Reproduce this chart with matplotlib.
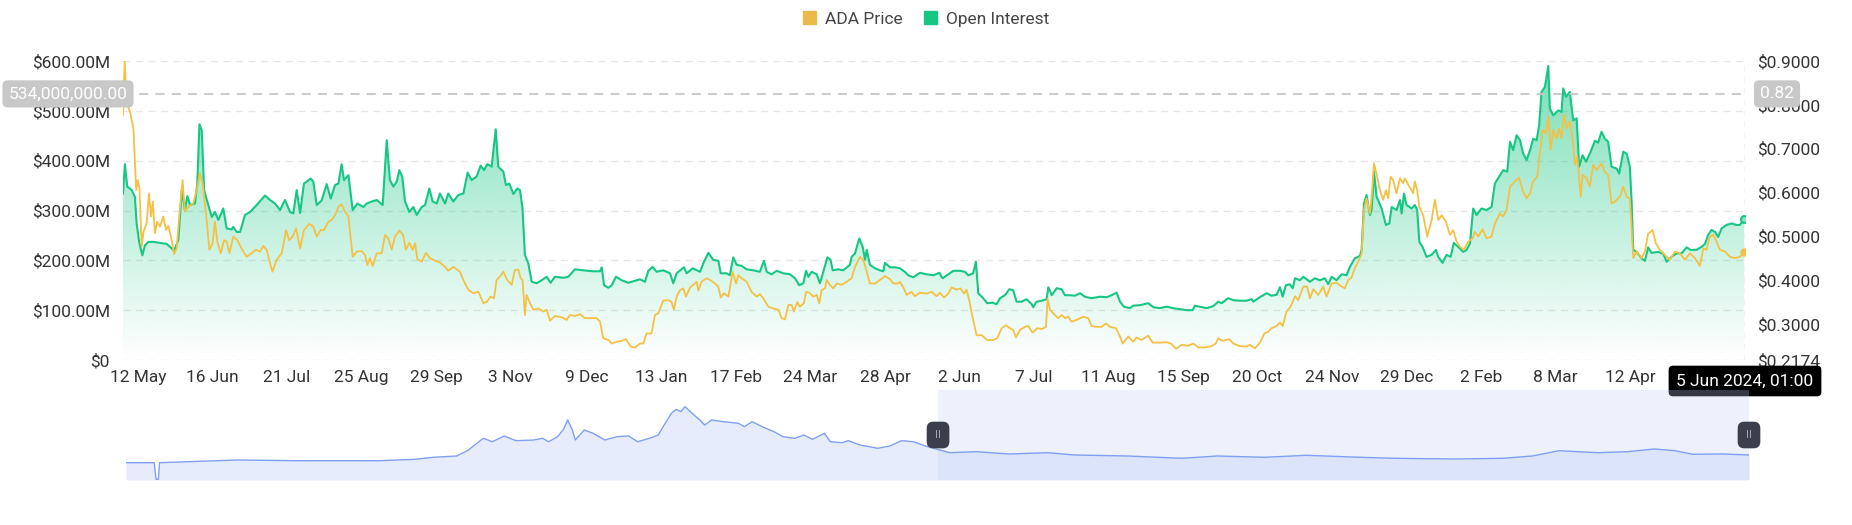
import numpy as np
import pandas as pd
import matplotlib
matplotlib.use("Agg")
import matplotlib.pyplot as plt
import matplotlib.dates as mdates
from matplotlib.patches import Patch
from matplotlib.ticker import FuncFormatter, FixedLocator
from matplotlib.transforms import blended_transform_factory

plt.rcParams['font.family'] = ['Roboto', 'DejaVu Sans']

# time window of the main chart and of the navigator underneath
start = pd.Timestamp('2022-05-05')
end = pd.Timestamp('2024-06-05')
nav_start = pd.Timestamp('2020-04-02')

# open interest, days after start -> million USD
oi_day = [0, 0.9, 2.0, 4.1, 5.6, 6.4, 7.7, 9.1, 10.3, 11.9, 14.3, 17.4, 20.5, 22.9, 24.0, 26.0, 27.6,
          29.1, 30.2, 31.5, 33.8, 34.9, 35.9, 37.0, 38.1, 39.6, 41.7, 43.2, 44.8, 47.1, 48.7, 51.0,
          51.8, 53.4, 55.0, 57.3, 59.7, 62.8, 66.7, 69.1, 71.4, 73.8, 76.1, 78.5, 80.0, 81.6, 83.2,
          85.0, 86.3, 88.2, 89.4, 91.0, 93.3, 95.7, 97.6, 99.6, 101.2, 102.7, 103.8, 105.9, 107.9,
          110.1, 112.9, 114.5, 116.8, 119.2, 122.0, 123.9, 125.4, 127.0, 128.6, 129.8, 131.2, 132.5,
          134.5, 136.4, 138.0, 140.3, 141.9, 143.9, 145.5, 147.4, 148.9, 151.3, 152.8, 155.2, 157.5,
          159.9, 161.9, 163.8, 166.1, 168.0, 169.6, 171.2, 173.2, 175.1, 176.3,
          178.7, 179.9, 181.5, 183.4, 185.2, 186.5, 187.7, 188.8, 190.4, 192.0, 194.3, 196.7, 199.0,
          200.9, 202.9, 206.9, 209.2, 212.3, 216.2, 221.0, 224.1, 224.9, 226.0, 228.0, 229.6, 231.6,
          234.3, 237.4, 239.7, 242.9, 245.2, 246.8, 248.8, 250.7, 253.8, 257.0, 258.5, 260.1, 263.5,
          264.8, 267.6, 271.1, 272.6, 275.0, 277.3, 279.7, 280.8, 283.6, 285.1, 286.7, 288.3, 290.6,
          293.0, 296.1, 299.2, 301.1, 302.4, 304.7, 307.1, 310.2, 313.3, 315.7, 317.7, 319.6, 320.9,
          322.0, 323.5, 325.9, 327.4, 329.0, 330.9, 332.4, 333.4, 336.0, 338.4, 341.5, 342.3, 343.9,
          345.9, 347.5, 348.6, 349.4, 350.9, 353.3, 355.6, 357.2, 358.0, 360.3, 362.7, 365.0,
          367.3, 368.9, 371.3, 374.4, 377.5, 380.7, 383.5, 385.0, 387.7, 390.1, 393.2, 395.5, 397.1,
          399.4, 400.7, 401.8, 404.1, 406.0, 408.5, 410.4, 412.0, 414.3, 416.4, 418.2, 419.8, 422.2,
          424.5, 426.9, 427.6, 429.2, 431.6, 433.9, 434.7, 436.3, 438.6, 441.0, 442.5, 444.9, 447.2,
          449.6, 451.9, 455.0, 459.0, 462.1, 464.4, 466.8, 468.4, 470.2, 473.0, 474.6, 477.7, 481.7,
          484.0, 487.1, 490.3, 493.4, 496.5, 499.7, 502.5, 503.6, 505.9, 509.1, 512.2, 514.5, 516.1,
          519.2, 521.6, 524.7, 527.9, 530.2, 531.0, 534.1, 537.3, 539.6, 542.0, 543.5, 544.8, 546.3,
          548.2, 549.5, 550.6, 552.9,
          554.5, 557.6, 559.9, 562.3, 564.6, 566.2, 567.8, 570.1, 572.5, 574.8, 576.4, 578.7, 581.1,
          581.9, 583.0, 584.2, 585.8, 586.6, 587.7, 588.9, 591.3, 593.3, 594.9, 596.0, 598.3, 599.9,
          600.7, 601.8, 603.0, 605.4, 606.9, 608.0, 609.0, 610.5, 612.4, 614.8, 616.8, 617.9, 619.9,
          621.8, 623.7, 625.2, 627.3, 629.6, 631.2, 632.8, 634.3, 635.9, 638.2, 640.6, 642.9, 644.5,
          646.5, 648.4, 650.3, 651.6, 653.1, 654.7, 656.3, 657.8, 659.4, 661.0, 662.5, 664.1, 665.3,
          666.4, 668.0, 669.6, 670.3, 671.9, 674.3, 675.8, 676.6, 677.9, 679.7, 681.3, 682.9, 684.1,
          685.7, 687.3, 689.1, 691.5, 693.0, 694.6, 696.2, 697.7, 699.3, 701.7, 702.9, 704.8, 706.4,
          707.9, 708.7, 709.5, 711.1, 713.4, 715.0, 716.5, 718.1, 721.2, 723.6, 725.2, 727.5, 729.9,
          732.2, 734.6, 736.4, 739.2, 741.6, 743.2, 744.7, 746.3, 747.9, 749.4, 751.0, 753.3, 755.7,
          758.0, 759.6, 761.6]
oi_musd = [334, 393, 348, 341, 327, 274, 234, 210, 230, 237, 237, 235, 233, 224, 219, 241, 341,
           301, 329, 311, 314, 354, 473, 461, 341, 318, 287, 297, 281, 304, 264, 262,
           267, 257, 257, 291, 297, 311, 330, 321, 314, 301, 321, 297, 294, 341, 295,
           354, 358, 364, 358, 311, 320, 353, 324, 351, 354, 393, 361, 371, 301,
           314, 307, 314, 318, 321, 311, 441, 361, 348, 358, 381, 368, 318,
           297, 307, 291, 307, 311, 344, 318, 314, 334, 314, 334, 318, 331,
           334, 376, 361, 368, 390, 381, 393, 388, 463, 388,
           378, 351, 354, 333, 344, 341, 304, 211, 194, 157, 154, 160, 167,
           155, 167, 165, 167, 182, 180, 178, 178, 186, 150, 145, 150, 167,
           160, 155, 158, 162, 157, 179, 187, 177, 180, 174, 154, 174, 186,
           174, 184, 177, 194, 215, 201, 199, 174, 174, 170, 206, 191, 189,
           182, 180, 177, 199, 177, 172, 179, 174, 172, 164, 150, 154, 179,
           167, 177, 172, 154, 177, 206, 201, 180, 182, 180, 191, 207, 214,
           244, 227, 201, 221, 191, 184, 180, 178, 195, 186, 186, 184,
           177, 170, 166, 175, 172, 170, 175, 164, 172, 179, 179, 177, 170,
           174, 197, 134, 124, 114, 115, 112, 124, 130, 142, 140, 117, 117,
           122, 112, 106, 117, 119, 122, 146, 130, 144, 142, 130, 130, 129,
           134, 127, 124, 127, 126, 130, 135, 117, 107, 104, 109, 110, 114,
           106, 104, 107, 104, 102, 100, 100, 109, 107, 104, 108, 117, 114,
           124, 120, 119, 119, 122, 117, 126, 134, 129, 131, 146, 127, 150,
           152, 144, 164, 160,
           167, 157, 164, 160, 164, 152, 167, 160, 172, 170, 187, 204, 209,
           221, 314, 331, 291, 301, 378, 328, 304, 271, 274, 307, 301, 321,
           294, 334, 311, 304, 311, 301, 237, 227, 207, 211, 221, 207, 195,
           211, 207, 235, 227, 217, 221, 234, 304, 291, 304, 301, 307, 354,
           368, 381, 378, 438, 421, 451, 441, 414, 401, 421, 444, 441, 471,
           538, 548, 590, 505, 491, 501, 498, 545, 528, 538, 481, 485, 388,
           411, 398, 414, 440, 436, 458, 444, 438, 388, 384, 374, 418, 414,
           388, 321, 221, 217, 204, 199, 226, 215, 217, 213, 197, 207, 214,
           214, 226, 221, 221, 227, 233, 251, 261, 257, 247, 264, 271, 274,
           271, 271, 282]

# ADA price, days after start -> USD
price_day = [0, 0.8, 1.7, 3.3, 4.9, 6.2, 6.9, 7.7, 8.8, 9.6, 11.1, 12.2, 13.2, 14.0, 15.0, 16.1,
             17.4, 18.9, 20.2, 21.3, 22.9, 24.0, 25.2, 26.8, 28.0, 29.1, 30.7, 33.0, 34.6, 36.2,
             37.4, 39.0, 40.6, 42.1, 43.2, 44.3, 45.9, 47.5, 48.7, 50.0, 51.8, 53.7, 55.7, 58.1,
             60.4, 62.5, 64.4, 65.9, 67.5, 69.1, 70.2, 72.2, 74.6, 76.6, 78.1, 79.7, 81.3, 83.2,
             85.0, 87.5, 89.4, 91.0, 92.9, 94.4, 96.5, 98.0, 99.6, 101.2, 102.7, 104.3, 105.9,
             107.9, 109.8, 112.1, 113.7, 114.8, 116.0, 117.3, 119.2, 121.5, 123.1, 124.6, 126.2,
             127.8, 129.8, 131.6, 132.9, 134.5, 136.1, 137.2, 138.3, 140.3, 142.3, 144.2, 146.6,
             148.9, 151.3, 152.8, 155.2, 158.3, 159.9, 162.3, 164.6, 167.0, 169.3, 170.9, 172.7,
             174.3, 175.5, 177.1,
             178.7, 180.5, 182.6, 184.1, 185.7, 186.8, 187.7, 188.8, 189.6, 191.2, 192.8, 195.1,
             197.5, 199.0, 200.6, 202.9, 206.1, 208.4, 210.0, 212.3, 214.7, 217.0, 219.4, 222.5,
             224.1, 225.6, 228.0, 229.6, 231.9, 234.3, 236.3, 238.5, 240.5, 242.9, 244.4, 246.0,
             248.3, 249.9, 251.5, 253.8, 256.2, 257.7, 258.8, 260.1, 261.7, 263.2, 264.5, 266.4,
             267.9, 269.5, 270.3, 271.8, 274.2, 275.8, 278.1, 279.7, 280.8, 282.3, 284.4, 286.4,
             288.0, 289.1, 290.6, 293.0, 295.3, 297.7, 299.2, 300.8, 303.2, 305.5, 307.9, 309.4,
             311.0, 312.6, 314.1, 315.2, 316.8, 318.0, 319.9, 320.9, 322.4, 324.3, 325.9, 327.1,
             328.2, 329.8, 330.6, 332.1, 333.7, 335.3, 337.6, 340.0, 342.3, 343.9, 346.2, 347.8,
             349.4, 350.9, 353.3, 355.6, 358.0, 360.3, 361.9, 364.2,
             365.0, 366.6, 368.1, 370.5, 372.0, 374.4, 377.5, 379.9, 382.2, 383.8, 385.7, 387.7,
             389.3, 391.6, 393.5, 395.1, 396.3, 397.6, 398.7, 401.0, 403.4, 406.0, 408.8, 410.7,
             412.8, 414.8, 416.7, 418.2, 419.5, 421.4, 423.7, 425.3, 427.3, 429.5, 431.6, 433.6,
             434.4, 435.5, 437.8, 439.4, 441.0, 442.5, 444.1, 445.6, 448.0, 451.1, 453.5, 455.0,
             457.4, 459.7, 461.8, 463.7, 466.5, 468.4, 469.6, 472.3, 474.6, 476.2, 478.5, 481.7,
             483.7, 487.1, 490.3, 492.6, 494.7, 497.3, 500.5, 502.8, 505.2, 508.3, 511.4, 513.4,
             514.5, 516.6, 519.7, 521.6, 524.7, 527.9, 529.4, 531.8, 534.1, 536.2, 538.0, 539.6,
             542.0, 543.5, 544.8, 546.6, 548.5, 550.6, 552.1,
             554.5, 556.3, 557.6, 559.2, 561.5, 563.9, 565.4, 567.8, 570.1, 572.5, 574.0, 575.6,
             577.2, 578.7, 580.3, 581.9, 583.0, 584.2, 585.8, 586.6, 587.7, 588.9, 590.5, 592.0,
             593.3, 594.4, 595.5, 596.7, 598.3, 599.9, 601.4, 602.2, 604.3, 606.1, 606.9, 608.0,
             609.0, 610.8, 612.7, 614.8, 616.3, 617.9, 619.5, 621.5, 623.4, 624.9, 626.5, 628.1,
             629.9, 632.0, 634.0, 635.1, 636.7, 638.7, 640.6, 642.9, 644.5, 646.9, 648.4, 650.0,
             651.6, 653.9, 655.9, 657.5, 659.4, 661.0, 662.5, 664.4, 665.3, 666.9, 668.5, 669.6,
             670.7, 671.9, 673.5, 674.7, 675.8, 676.9, 678.2, 679.7, 681.0, 682.1, 683.2, 684.8,
             685.7, 687.6, 689.1, 690.7, 692.3, 694.6, 696.2, 697.7, 699.3, 700.9, 703.2, 704.8,
             706.4, 707.9, 708.7, 709.5, 711.1, 713.4, 715.0, 716.5, 718.6, 720.1, 722.0, 724.4,
             726.7, 729.1, 731.4, 733.8, 736.1, 738.5, 740.8, 742.4, 743.9, 745.5, 747.1, 748.6,
             750.2, 752.6, 754.9, 757.3, 759.6, 761.6]
price_usd = [0.777, 0.902, 0.803, 0.784, 0.746, 0.605, 0.628, 0.610, 0.476, 0.510, 0.529, 0.598,
             0.545, 0.579, 0.507, 0.533, 0.522, 0.545, 0.514, 0.524, 0.491, 0.459, 0.472, 0.567,
             0.628, 0.556, 0.567, 0.575, 0.605, 0.644, 0.621, 0.552, 0.469, 0.484, 0.533, 0.488,
             0.461, 0.491, 0.488, 0.461, 0.499, 0.491, 0.472, 0.453, 0.461, 0.469, 0.465, 0.478,
             0.469, 0.438, 0.419, 0.446, 0.461, 0.514, 0.491, 0.499, 0.518, 0.472, 0.514, 0.528,
             0.522, 0.499, 0.514, 0.514, 0.533, 0.537, 0.548, 0.567, 0.573, 0.556, 0.545, 0.453,
             0.465, 0.466, 0.457, 0.434, 0.450, 0.432, 0.461, 0.461, 0.503, 0.495, 0.469, 0.499,
             0.513, 0.503, 0.469, 0.485, 0.469, 0.484, 0.447, 0.442, 0.462, 0.450, 0.444, 0.440,
             0.430, 0.421, 0.430, 0.419, 0.400, 0.377, 0.370, 0.373, 0.347, 0.350, 0.362, 0.358,
             0.400, 0.408,
             0.419, 0.400, 0.389, 0.423, 0.424, 0.404, 0.400, 0.320, 0.366, 0.347, 0.332, 0.335,
             0.328, 0.332, 0.307, 0.318, 0.315, 0.309, 0.320, 0.318, 0.322, 0.313, 0.313, 0.313,
             0.305, 0.267, 0.263, 0.255, 0.259, 0.261, 0.265, 0.248, 0.246, 0.255, 0.255, 0.278,
             0.278, 0.320, 0.324, 0.353, 0.354, 0.350, 0.332, 0.362, 0.377, 0.381, 0.362, 0.383,
             0.389, 0.396, 0.376, 0.396, 0.404, 0.400, 0.392, 0.385, 0.360, 0.370, 0.362, 0.419,
             0.392, 0.411, 0.404, 0.396, 0.373, 0.362, 0.368, 0.358, 0.339, 0.335, 0.332, 0.313,
             0.310, 0.343, 0.343, 0.328, 0.350, 0.339, 0.347, 0.373, 0.371, 0.362, 0.366, 0.347,
             0.377, 0.381, 0.400, 0.389, 0.381, 0.392, 0.389, 0.396, 0.404, 0.430, 0.453, 0.446,
             0.419, 0.392, 0.392, 0.400, 0.409, 0.402, 0.392, 0.392,
             0.396, 0.383, 0.366, 0.373, 0.363, 0.371, 0.369, 0.373, 0.363, 0.371, 0.360, 0.369,
             0.383, 0.378, 0.381, 0.369, 0.378, 0.353, 0.324, 0.274, 0.274, 0.263, 0.263, 0.267,
             0.290, 0.297, 0.290, 0.286, 0.269, 0.286, 0.293, 0.295, 0.280, 0.290, 0.288, 0.293,
             0.358, 0.332, 0.320, 0.313, 0.320, 0.313, 0.316, 0.305, 0.309, 0.316, 0.313, 0.295,
             0.293, 0.293, 0.301, 0.293, 0.290, 0.271, 0.255, 0.271, 0.259, 0.269, 0.263, 0.273,
             0.257, 0.257, 0.258, 0.254, 0.243, 0.252, 0.250, 0.255, 0.246, 0.246, 0.249, 0.255,
             0.267, 0.261, 0.265, 0.255, 0.249, 0.248, 0.252, 0.244, 0.257, 0.278, 0.282, 0.290,
             0.295, 0.303, 0.295, 0.328, 0.339, 0.363, 0.354,
             0.385, 0.385, 0.358, 0.379, 0.366, 0.385, 0.362, 0.392, 0.394, 0.385, 0.381, 0.400,
             0.406, 0.427, 0.442, 0.461, 0.560, 0.586, 0.552, 0.590, 0.666, 0.643, 0.605, 0.583,
             0.605, 0.586, 0.636, 0.628, 0.598, 0.632, 0.621, 0.632, 0.613, 0.598, 0.625, 0.605,
             0.567, 0.548, 0.499, 0.537, 0.583, 0.537, 0.548, 0.533, 0.503, 0.514, 0.488, 0.476,
             0.469, 0.488, 0.495, 0.510, 0.499, 0.516, 0.495, 0.499, 0.529, 0.552, 0.545, 0.560,
             0.613, 0.625, 0.634, 0.605, 0.586, 0.598, 0.625, 0.636, 0.674, 0.743, 0.735, 0.773,
             0.697, 0.743, 0.723, 0.746, 0.723, 0.777, 0.746, 0.762, 0.720, 0.663, 0.682, 0.590,
             0.640, 0.632, 0.613, 0.663, 0.651, 0.666, 0.647, 0.640, 0.575, 0.579, 0.590, 0.613,
             0.590, 0.586, 0.522, 0.450, 0.465, 0.450, 0.465, 0.506, 0.514, 0.484, 0.469, 0.457,
             0.446, 0.465, 0.461, 0.446, 0.461, 0.450, 0.432, 0.472, 0.469, 0.499, 0.503, 0.488,
             0.469, 0.465, 0.453, 0.450, 0.453, 0.463]

# navigator series, days after nav_start -> relative level
nav_day = [0, 26.5, 28.2, 30.4, 31.5, 104.5, 160.3, 238.3, 271.7, 288.5, 310.7, 321.9, 327.5,
           335.8, 344.2, 355.4, 366.5, 383.2, 391.5, 397.1, 405.5, 411.1, 415.0, 419.4, 422.2,
           430.5, 438.9, 450.0, 461.2, 472.3, 480.7, 491.9, 500.2, 504.7, 512.5, 517.0, 521.4,
           525.3, 533.7, 539.3, 543.7, 550.3, 561.5, 575.4, 581.0, 588.3, 597.8, 608.9, 617.3,
           628.4, 636.8, 645.1, 656.2, 661.8, 672.9, 678.6, 689.7, 706.4, 717.6, 728.7, 739.8,
           751.0, 774.0, 799.1, 829.8, 866.1, 891.3, 941.6, 991.8, 1025.4, 1070.0, 1109.1,
           1159.5, 1192.9, 1248.8, 1293.5, 1321.5, 1346.5, 1382.9, 1410.8, 1435.9, 1455.4,
           1472.3, 1500.2, 1525.3]
nav_level = [17.3, 17.3, 0.7, 0.7, 17.3, 20.0, 19.3, 19.3, 20.7, 22.7, 24.0, 30.0, 35.0,
             41.7, 38.3, 44.0, 39.3, 40.0, 41.7, 38.3, 43.3, 50.7, 60.0, 50.0, 40.0,
             50.0, 46.7, 40.0, 43.3, 44.0, 38.3, 41.7, 45.0, 53.3, 66.7, 70.7, 68.3,
             73.3, 65.0, 60.0, 55.0, 60.0, 58.3, 56.7, 53.3, 58.3, 53.3, 48.3, 43.3,
             41.7, 45.0, 40.7, 46.7, 38.3, 37.3, 39.3, 35.0, 31.7, 34.0, 39.3, 38.3,
             34.0, 27.3, 28.3, 26.0, 27.3, 25.0, 24.0, 21.7, 24.0, 22.7, 24.7,
             22.7, 21.7, 21.0, 21.7, 24.0, 29.3, 27.3, 28.3, 31.0, 29.3,
             25.7, 26.0, 25.0]

tick_dates = ['2022-05-12', '2022-06-16', '2022-07-21', '2022-08-25', '2022-09-29', '2022-11-03',
              '2022-12-09', '2023-01-13', '2023-02-17', '2023-03-24', '2023-04-28', '2023-06-02',
              '2023-07-07', '2023-08-11', '2023-09-15', '2023-10-20', '2023-11-24', '2023-12-29',
              '2024-02-02', '2024-03-08', '2024-04-12']
tick_labels = ['12 May', '16 Jun', '21 Jul', '25 Aug', '29 Sep', '3 Nov', '9 Dec', '13 Jan',
               '17 Feb', '24 Mar', '28 Apr', '2 Jun', '7 Jul', '11 Aug', '15 Sep', '20 Oct',
               '24 Nov', '29 Dec', '2 Feb', '8 Mar', '12 Apr']
oi_ticks = [0, 100, 200, 300, 400, 500, 600]
price_ticks = [0.2174, 0.3, 0.4, 0.5, 0.6, 0.7, 0.8, 0.9]
cross_oi = 534          # hovered level, million USD
hover_text = '5 Jun 2024, 01:00'

GREEN = '#16C784'
YELLOW = '#F5C144'
TXT = '#333333'
FS = 12.5

oi_x = start + pd.to_timedelta(oi_day, unit='D')
price_x = start + pd.to_timedelta(price_day, unit='D')
nav_x = nav_start + pd.to_timedelta(nav_day, unit='D')

fig = plt.figure(figsize=(18.52, 5.25), dpi=100)
ax = fig.add_axes([123 / 1852, 165 / 525, 1622 / 1852, 299 / 525])

# gradient area under open interest
area = ax.fill_between(oi_x, 0, oi_musd, facecolor='none', edgecolor='none')
grad = np.zeros((256, 1, 4))
grad[..., :3] = matplotlib.colors.to_rgb(GREEN)
grad[..., 3] = np.linspace(0.0, 0.58, 256)[:, None]
x0, x1 = mdates.date2num(start), mdates.date2num(end)
im = ax.imshow(grad, extent=[x0, x1, 0, 600], aspect='auto', origin='lower', zorder=1)
im.set_clip_path(area.get_paths()[0], transform=ax.transData)

ax.plot(oi_x, oi_musd, color=GREEN, lw=1.5, zorder=3)
ax.plot(oi_x[-1], oi_musd[-1], 'o', ms=5, mfc='#8BE3BF', mec=GREEN, mew=1.5, zorder=4)

ax.set_xlim(start, end)
ax.set_ylim(0, 600)
ax.yaxis.set_major_locator(FixedLocator(oi_ticks))
ax.yaxis.set_major_formatter(FuncFormatter(lambda v, p: '$0' if v == 0 else f'${v:.2f}M'))
ax.set_xticks(pd.to_datetime(tick_dates))
ax.set_xticklabels(tick_labels)
ax.grid(axis='y', color='#E6E6E6', lw=1, ls=(0, (5, 4)))
ax.set_axisbelow(True)
ax.tick_params(axis='y', length=0, pad=9.4, labelsize=FS, labelcolor=TXT)
ax.tick_params(axis='x', length=0, pad=7.5, labelsize=FS, labelcolor=TXT)
for s in ax.spines.values():
    s.set_visible(False)

ax2 = ax.twinx()
ax2.plot(price_x, price_usd, color=YELLOW, lw=1.3, zorder=3)
ax2.plot(price_x[-1], price_usd[-1], 'o', ms=5, mfc=YELLOW, mec=YELLOW, zorder=4)
ax2.set_ylim(price_ticks[0], price_ticks[-1])
ax2.yaxis.set_major_locator(FixedLocator(price_ticks))
ax2.yaxis.set_major_formatter(FuncFormatter(lambda v, p: f'${v:.4f}'))
ax2.tick_params(axis='y', length=0, pad=8.6, labelsize=FS, labelcolor=TXT)
for s in ax2.spines.values():
    s.set_visible(False)

# crosshair
ax2.axhline(ax2.transData.inverted().transform(ax.transData.transform((0, cross_oi)))[1],
            color='#C6C6C6', lw=1.3, ls=(0, (5, 4)), zorder=5)
ax2.axvline(end, color='#CCCCCC', lw=1, ls=(0, (4, 4)), zorder=5)
cross_price = price_ticks[0] + cross_oi / 600 * (price_ticks[-1] - price_ticks[0])
tr = blended_transform_factory(fig.transFigure, ax.transData)
box = dict(boxstyle='round,pad=0.35,rounding_size=0.3', fc='#C8C8C8', ec='none')
fig.text(68 / 1852, cross_oi, f'{cross_oi * 1e6:,.2f}', transform=tr, ha='center', va='center',
         color='white', fontsize=FS, bbox=box, zorder=10)
fig.text(1777 / 1852, cross_oi, f'{cross_price:.2f}', transform=tr, ha='center', va='center',
         color='white', fontsize=FS, bbox=box, zorder=10)
ax2.annotate(hover_text, xy=(end, 0), xycoords=('data', 'axes fraction'), xytext=(0, -21),
             textcoords='offset pixels', ha='center', va='center', color='white', fontsize=FS,
             bbox=dict(boxstyle='round,pad=0.45,rounding_size=0.25', fc='black', ec='none'),
             annotation_clip=False, zorder=10)

# legend
fig.legend(handles=[Patch(color='#EBBA4B'), Patch(color=GREEN)], labels=['ADA Price', 'Open Interest'],
           loc='center', bbox_to_anchor=(0.5, 1 - 19 / 525), ncol=2, frameon=False,
           fontsize=12.5, labelcolor='#444444', handlelength=0.8, handleheight=0.8,
           handletextpad=0.5, columnspacing=1.2)

# navigator
axn = fig.add_axes([126 / 1852, 45 / 525, 1623 / 1852, 90 / 525])
axn.fill_between(nav_x, 0, nav_level, color='#E6ECFB', lw=0)
axn.plot(nav_x, nav_level, color='#7F9FF2', lw=1)
axn.axvspan(start, end, color='#BFD0F7', alpha=0.28, lw=0)
axn.set_xlim(nav_start, end)
axn.set_ylim(0, 90)
axn.axis('off')
for d in (start, end):
    axn.text(d, 45, 'II', ha='center', va='center', fontsize=8, color='#A0A6B2',
             clip_on=False, zorder=5,
             bbox=dict(boxstyle='round,pad=0.75,rounding_size=0.6', fc='#3B3F4B', ec='none'))

fig.savefig('out.png', dpi=100)
